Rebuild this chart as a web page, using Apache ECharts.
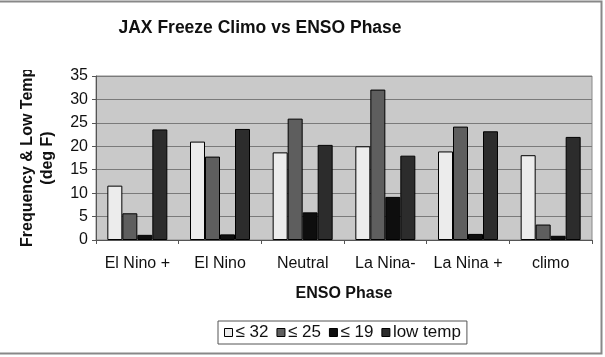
<!DOCTYPE html>
<html><head><meta charset="utf-8">
<script src="https://cdn.jsdelivr.net/npm/echarts@6/dist/echarts.min.js"></script>
<style>html,body{margin:0;padding:0;background:#fff}#c{width:605px;height:357px}</style>
</head><body><div id="c"></div>
<script>
const categories = ['El Nino +', 'El Nino', 'Neutral', 'La Nina-', 'La Nina +', 'climo'];
const le32 = [11.6, 21.0, 18.7, 20.0, 18.9, 18.1];
const le25 = [5.7, 17.8, 25.9, 32.1, 24.2, 3.3];
const le19 = [1.1, 1.2, 5.9, 9.2, 1.3, 0.9];
const lowTemp = [23.6, 23.7, 20.3, 18.0, 23.2, 22.0];
const seriesNames = ['\u2264 32', '\u2264 25', '\u2264 19', 'low temp'];
const yTicks = [0, 5, 10, 15, 20, 25, 30, 35];

const colors = ['#ececec', '#5e5e5e', '#0e0e0e', '#2c2c2c'];
const font = 'Liberation Sans, Arial, sans-serif';
const chart = echarts.init(document.getElementById('c'), null, {renderer: 'canvas'});
const mk = (name, data, i) => ({
  name, type: 'bar', data, barWidth: 15, barGap: '0%',
  itemStyle: {color: colors[i], borderColor: '#000', borderWidth: 1},
  emphasis: {disabled: true}, animation: false
});
chart.setOption({
  animation: false,
  backgroundColor: '#fff',
  title: {
    text: 'JAX Freeze Climo vs ENSO Phase', left: 255, top: 14, textAlign: 'center',
    textStyle: {fontFamily: font, fontSize: 17.5, fontWeight: 'bold', color: '#111'}
  },
  graphic: [
    {type: 'polyline', shape: {points: [[0, 1.5], [601.5, 1.5], [601.5, 353.5], [0, 353.5]]}, style: {fill: 'none', stroke: '#888', lineWidth: 2}, z: -1},
    {type: 'text', x: 28, y: 247, rotation: Math.PI / 2,
      style: {text: 'Frequency & Low Temp', fontFamily: font, fontSize: 16, fontWeight: 'bold', fill: '#111', align: 'left', verticalAlign: 'middle'}},
    {type: 'rect', shape: {x: 14, y: 40, width: 28, height: 30}, style: {fill: '#fff'}, z: 100}
  ],
  legend: {
    data: seriesNames, top: 321, left: 218, itemWidth: 8, itemHeight: 8, itemGap: 8, icon: 'rect',
    borderColor: '#555', borderWidth: 1, padding: [3, 6],
    textStyle: {fontFamily: font, fontSize: 17, color: '#111', padding: [0, 0, 0, -2]},
    itemStyle: {borderColor: '#000', borderWidth: 1}
  },
  grid: {left: 96, right: 13, top: 76, bottom: 117, show: true, backgroundColor: '#c9c9c9', borderColor: '#888', borderWidth: 1},
  xAxis: {
    type: 'category', data: categories,
    name: 'ENSO Phase', nameLocation: 'middle', nameGap: 46,
    nameTextStyle: {fontFamily: font, fontSize: 16, fontWeight: 'bold', color: '#111'},
    axisLine: {lineStyle: {color: '#555'}},
    axisTick: {show: true, length: 4, lineStyle: {color: '#555'}},
    axisLabel: {fontFamily: font, fontSize: 16, color: '#111', margin: 16, interval: 0}
  },
  yAxis: {
    type: 'value', min: 0, max: 35, interval: 5,
    name: '(deg F)', nameLocation: 'middle', nameGap: 40, nameRotate: 90,
    nameTextStyle: {fontFamily: font, fontSize: 16, fontWeight: 'bold', color: '#111'},
    axisLine: {show: true, lineStyle: {color: '#555'}},
    axisTick: {show: true, length: 4, lineStyle: {color: '#555'}},
    axisLabel: {fontFamily: font, fontSize: 16, color: '#111', margin: 8,
      formatter: v => yTicks.includes(v) ? String(v) : ''},
    splitLine: {lineStyle: {color: '#7a7a7a', width: 1}}
  },
  series: [mk(seriesNames[0], le32, 0), mk(seriesNames[1], le25, 1), mk(seriesNames[2], le19, 2), mk(seriesNames[3], lowTemp, 3)]
});
</script></body></html>
